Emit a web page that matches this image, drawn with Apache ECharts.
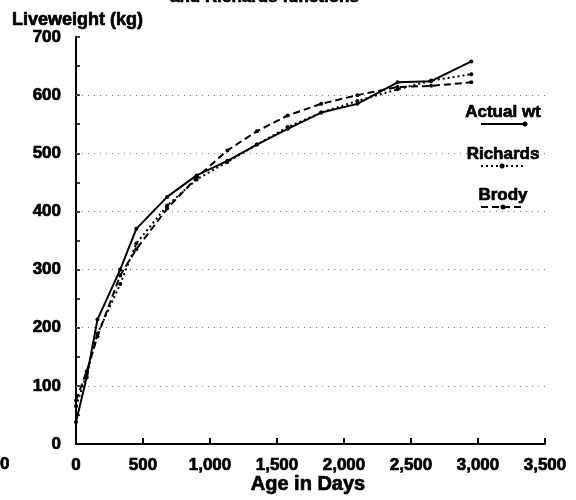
<!DOCTYPE html>
<html>
<head>
<meta charset="utf-8">
<script src="https://cdn.jsdelivr.net/npm/echarts@6/dist/echarts.min.js"></script>
<style>
html,body{margin:0;padding:0;background:#fff;}
#main{width:576px;height:500px;}
</style>
</head>
<body>
<div id="main"></div>
<script>
// 数据: age in days, liveweight (kg)
var ages = [0, 80, 160, 330, 450, 680, 900, 1130, 1350, 1580, 1830, 2100, 2400, 2650, 2950];
var actualWt = [38, 115, 214, 300, 370, 425, 462, 487, 515, 542, 570, 585, 622, 624, 658];
var richards = [65, 120, 190, 275, 345, 410, 455, 485, 515, 545, 570, 590, 610, 625, 636];
var brody = [75, 125, 185, 290, 335, 405, 458, 505, 538, 565, 585, 600, 614, 616, 622];
var gridValues = [100, 200, 300, 400, 500, 600];
var seriesNames = ['Actual wt', 'Richards', 'Brody'];

var FONT = '"Liberation Sans", Arial, sans-serif';
// 加粗一点, 接近原图的粗黑字
var HEAVY = {textBorderColor: '#000', textBorderWidth: 0.7};

function pairs(ys) {
  return ages.map(function(a, i) { return [a, ys[i]]; });
}
function comma(v) {
  return String(v).replace(/\B(?=(\d{3})+(?!\d))/g, ',');
}
function txt(s, x, y, size, align, vAlign) {
  return {type: 'text', x: x, y: y, style: {
    text: s, font: 'bold ' + size + 'px ' + FONT, fill: '#000',
    align: align || 'left', verticalAlign: vAlign || 'middle',
    stroke: '#000', lineWidth: 0.7
  }};
}

// 图例: 文字在上, 线样在下
function legendItem(name, y, dash, dotX) {
  return [
    txt(name, 503, y, 17, 'center'),
    {type: 'line', shape: {x1: 481, y1: y + 12, x2: 525, y2: y + 12}, style: {stroke: '#000', lineWidth: 2, lineDash: dash}},
    {type: 'circle', shape: {cx: dotX, cy: y + 12, r: 2.5}, style: {fill: '#000'}}
  ];
}

var myChart = echarts.init(document.getElementById('main'));

var lineStyles = [
  {color: '#000', width: 2, type: 'solid'},
  {color: '#000', width: 2, type: [2, 3]},
  {color: '#000', width: 2, type: [7, 4]}
];
var seriesData = [actualWt, richards, brody];

var series = seriesData.map(function(d, i) {
  return {
    name: seriesNames[i],
    type: 'line',
    data: pairs(d),
    symbol: 'circle',
    symbolSize: 4,
    itemStyle: {color: '#000'},
    lineStyle: lineStyles[i],
    z: 3
  };
});
// 虚线网格
series[0].markLine = {
  silent: true,
  symbol: 'none',
  label: {show: false},
  lineStyle: {color: '#777', width: 1, type: [1, 5]},
  data: gridValues.map(function(v) { return {yAxis: v}; }),
  z: 1
};

var option = {
  animation: false,
  backgroundColor: '#fff',
  grid: {left: 76, right: 31, top: 37, bottom: 56},
  xAxis: {
    type: 'value',
    min: 0, max: 3500, interval: 500,
    axisLine: {lineStyle: {color: '#000', width: 2}},
    axisTick: {inside: true, length: 6, lineStyle: {color: '#000', width: 2}},
    axisLabel: Object.assign({color: '#000', fontFamily: FONT, fontWeight: 'bold', fontSize: 17, margin: 13, formatter: comma}, HEAVY),
    splitLine: {show: false}
  },
  yAxis: {
    type: 'value',
    min: 0, max: 700, interval: 100,
    axisLine: {show: true, lineStyle: {color: '#000', width: 2}},
    axisTick: {show: true, inside: true, length: 4, lineStyle: {color: '#000', width: 1.5}},
    minorTick: {show: true, splitNumber: 2, length: 4, lineStyle: {color: '#000', width: 1.5}},
    axisLabel: Object.assign({color: '#000', fontFamily: FONT, fontWeight: 'bold', fontSize: 17, margin: 15}, HEAVY),
    splitLine: {show: false}
  },
  graphic: [
    txt('and Richards functions', 170, 6, 17, 'left', 'bottom'),
    txt('Liveweight (kg)', 12, 20, 18),
    txt('Age in Days', 308, 484, 20, 'center'),
    txt('0', 0, 464, 17)
  ]
    .concat(legendItem(seriesNames[0], 112, null, 525))
    .concat(legendItem(seriesNames[1], 154, [2, 3], 502))
    .concat(legendItem(seriesNames[2], 195, [7, 4], 503)),
  series: series
};

myChart.setOption(option);
</script>
</body>
</html>
